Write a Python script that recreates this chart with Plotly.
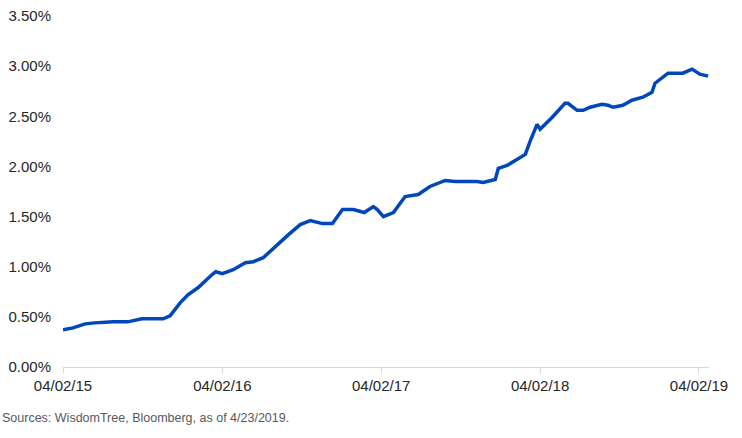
import plotly.graph_objects as go

dates = [
    "2015-04-02", "2015-04-25", "2015-05-23", "2015-06-14", "2015-07-26", "2015-08-29",
    "2015-09-30", "2015-11-18", "2015-12-04", "2015-12-27", "2016-01-14", "2016-02-06",
    "2016-03-09", "2016-03-18", "2016-04-02", "2016-04-27", "2016-05-25", "2016-06-12",
    "2016-07-05", "2016-08-13", "2016-09-01", "2016-09-28", "2016-10-21", "2016-11-18",
    "2016-12-11", "2017-01-03", "2017-01-28", "2017-02-22", "2017-03-15", "2017-03-24",
    "2017-04-07", "2017-04-30", "2017-05-27", "2017-06-26", "2017-07-23", "2017-08-27",
    "2017-09-19", "2017-11-08", "2017-11-22", "2017-12-20", "2017-12-27", "2018-01-16",
    "2018-02-15", "2018-02-27", "2018-03-10", "2018-03-26", "2018-04-02", "2018-04-30",
    "2018-05-29", "2018-06-05", "2018-06-26", "2018-07-10", "2018-07-26", "2018-08-22",
    "2018-09-05", "2018-09-17", "2018-10-09", "2018-10-30", "2018-11-24", "2018-12-15",
    "2018-12-22", "2019-01-02", "2019-01-21", "2019-02-06", "2019-02-24", "2019-03-17",
    "2019-04-04", "2019-04-23",
]
values = [
    0.37, 0.39, 0.43, 0.44, 0.45, 0.45,
    0.48, 0.48, 0.51, 0.64, 0.72, 0.79,
    0.92, 0.95, 0.93, 0.97, 1.04, 1.05,
    1.09, 1.25, 1.32, 1.42, 1.46, 1.43,
    1.43, 1.57, 1.57, 1.54, 1.60, 1.57,
    1.50, 1.54, 1.70, 1.72, 1.80, 1.86,
    1.85, 1.85, 1.84, 1.87, 1.98, 2.01,
    2.09, 2.12, 2.25, 2.42, 2.37, 2.49,
    2.63, 2.63, 2.56, 2.56, 2.59, 2.62,
    2.61, 2.59, 2.61, 2.66, 2.69, 2.74,
    2.83, 2.87, 2.93, 2.93, 2.93, 2.97,
    2.92, 2.90,
]
values_frac = [v / 100 for v in values]

x_tickvals = ["2015-04-02", "2016-04-02", "2017-04-02", "2018-04-02", "2019-04-02"]
x_ticktext = ["04/02/15", "04/02/16", "04/02/17", "04/02/18", "04/02/19"]
y_tickvals = [0, 0.005, 0.01, 0.015, 0.02, 0.025, 0.03, 0.035]

source_text = "Sources: WisdomTree, Bloomberg, as of 4/23/2019."

fig = go.Figure()
fig.add_trace(go.Scatter(
    x=dates, y=values_frac, mode="lines",
    line=dict(color="#0047BB", width=3.5, shape="linear"),
    hoverinfo="x+y",
))

font_family = "Liberation Sans, Arial, sans-serif"

fig.update_layout(
    width=742, height=438,
    margin=dict(l=63, r=33, t=16, b=71, autoexpand=False),
    paper_bgcolor="white", plot_bgcolor="white",
    showlegend=False,
    font=dict(family=font_family, size=15, color="#262626"),
    xaxis=dict(
        range=["2015-04-02", "2019-04-25"],
        tickvals=x_tickvals, ticktext=x_ticktext,
        showgrid=False, zeroline=False, automargin=False,
        showline=True, linecolor="#d9d9d9", linewidth=1,
        ticks="outside", ticklen=5, tickcolor="#d9d9d9",
        tickfont=dict(size=15, color="#262626"),
    ),
    yaxis=dict(
        range=[0, 0.035],
        tickvals=y_tickvals, tickformat=".2%",
        showgrid=False, zeroline=False, showline=False, automargin=False,
        ticks="", ticklabelstandoff=11,
        tickfont=dict(size=15, color="#262626"),
    ),
    annotations=[dict(
        text=source_text, xref="paper", yref="paper",
        x=-63 / 646, y=(367 - 418) / 351, xanchor="left", yanchor="middle",
        showarrow=False, font=dict(size=12.5, color="#595959", family=font_family),
    )],
)

fig.write_html("out.html")
